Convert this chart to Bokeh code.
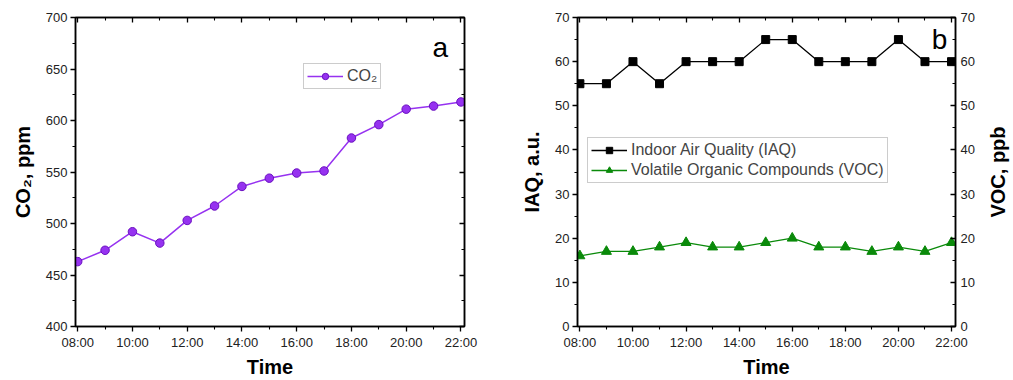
from bokeh.plotting import figure
from bokeh.layouts import row
from bokeh.models import (Range1d, LinearAxis, FixedTicker, Legend, LegendItem,
                          CustomJSTickFormatter, Label)
from bokeh.embed import file_html
from bokeh.resources import INLINE

# ---------------- data ----------------
hours = [8, 9, 10, 11, 12, 13, 14, 15, 16, 17, 18, 19, 20, 21, 22]
tick_hours = [8, 10, 12, 14, 16, 18, 20, 22]
minor_hours = [9, 11, 13, 15, 17, 19, 21]
tick_labels = ["08:00", "10:00", "12:00", "14:00", "16:00", "18:00", "20:00", "22:00"]

co2_ppm = [463, 474, 492, 481, 503, 517, 536, 544, 549, 551, 583, 596, 611, 614, 618]
iaq_au = [55, 55, 60, 55, 60, 60, 60, 65, 65, 60, 60, 60, 65, 60, 60]
voc_ppb = [16, 17, 17, 18, 19, 18, 18, 19, 20, 18, 18, 17, 18, 17, 19]

co2_ticks = [400, 450, 500, 550, 600, 650, 700]
co2_minor = [425, 475, 525, 575, 625, 675]
aq_ticks = [0, 10, 20, 30, 40, 50, 60, 70]
aq_minor = [5, 15, 25, 35, 45, 55, 65]

FONT = "Liberation Sans"
PURPLE = "#9632F0"
GREEN = "#0A8A0A"


def style_axis(ax, ticks, minor, outward=True, labels=True, overrides=None):
    ax.ticker = FixedTicker(ticks=ticks, minor_ticks=minor)
    ax.axis_line_width = 1.5
    ax.axis_line_color = "black"
    ax.major_tick_line_width = 1.3
    ax.minor_tick_line_width = 1.1
    if outward:
        ax.major_tick_out, ax.major_tick_in = 5, 0
        ax.minor_tick_out, ax.minor_tick_in = 3, 0
    else:
        ax.major_tick_out, ax.major_tick_in = 0, 5
        ax.minor_tick_out, ax.minor_tick_in = 0, 3
    ax.major_label_text_font = FONT
    ax.major_label_text_font_size = "13px"
    ax.major_label_text_color = "#222222"
    ax.major_label_standoff = 3
    ax.axis_label_text_font = FONT
    ax.axis_label_text_font_size = "20px"
    ax.axis_label_text_font_style = "bold"
    ax.axis_label_text_color = "black"
    ax.axis_label_standoff = 3
    if overrides:
        ax.major_label_overrides = overrides
    if not labels:
        ax.formatter = CustomJSTickFormatter(code="return ''")
        ax.major_label_standoff = 0


x_over = {float(h): l for h, l in zip(tick_hours, tick_labels)}

# ---------------- panel a ----------------
p1 = figure(width=505, height=380, x_range=Range1d(7.92, 22.13), y_range=Range1d(400, 700),
            output_backend="svg", toolbar_location=None,
            min_border_left=75, min_border_right=41, min_border_top=17, min_border_bottom=52,
            x_axis_label="Time", y_axis_label="CO₂, ppm")
p1.xgrid.visible = False
p1.ygrid.visible = False
p1.outline_line_color = "black"
p1.outline_line_width = 1.5
style_axis(p1.xaxis[0], tick_hours, minor_hours, overrides=x_over)
style_axis(p1.yaxis[0], co2_ticks, co2_minor)
p1.yaxis[0].axis_label_standoff = 9
top1 = LinearAxis()
style_axis(top1, tick_hours, minor_hours, outward=False, labels=False)
p1.add_layout(top1, "above")
right1 = LinearAxis()
style_axis(right1, co2_ticks, co2_minor, outward=False, labels=False)
p1.add_layout(right1, "right")

l1 = p1.line(hours, co2_ppm, line_color=PURPLE, line_width=1.5)
s1 = p1.scatter(hours, co2_ppm, marker="circle", size=8.5, fill_color=PURPLE,
                line_color="#6A10C0", line_width=1)
leg1 = Legend(items=[LegendItem(label="CO₂", renderers=[l1, s1])],
              location=(228, 237), glyph_width=36, glyph_height=16,
              label_text_font=FONT, label_text_font_size="16px",
              label_standoff=4, padding=3, spacing=0, margin=0,
              border_line_color="#999999", border_line_width=1,
              background_fill_alpha=1)
p1.add_layout(leg1, "center")
p1.add_layout(Label(x=21.25, y=671, text="a", text_font=FONT, text_font_size="28px",
                    text_align="center", text_baseline="middle", text_color="black"))

# ---------------- panel b ----------------
p2 = figure(width=478, height=380, x_range=Range1d(7.91, 22.15), y_range=Range1d(0, 70),
            output_backend="svg", toolbar_location=None,
            min_border_left=72, min_border_right=28, min_border_top=17, min_border_bottom=52,
            x_axis_label="Time", y_axis_label="IAQ, a.u.")
p2.extra_y_ranges = {"voc": Range1d(0, 70)}
p2.xgrid.visible = False
p2.ygrid.visible = False
p2.outline_line_color = "black"
p2.outline_line_width = 1.5
style_axis(p2.xaxis[0], tick_hours, minor_hours, overrides=x_over)
style_axis(p2.yaxis[0], aq_ticks, aq_minor)
p2.yaxis[0].axis_label_standoff = 9
top2 = LinearAxis()
style_axis(top2, tick_hours, minor_hours, outward=False, labels=False)
p2.add_layout(top2, "above")
right2 = LinearAxis(y_range_name="voc")
style_axis(right2, aq_ticks, aq_minor, outward=False)
right2.major_label_standoff = 5
p2.add_layout(right2, "right")

l2 = p2.line(hours, iaq_au, line_color="black", line_width=1.3)
s2 = p2.scatter(hours, iaq_au, marker="square", size=8, fill_color="black", line_color="black")
l3 = p2.line(hours, voc_ppb, line_color=GREEN, line_width=1.3, y_range_name="voc")
s3 = p2.scatter(hours, voc_ppb, marker="triangle", size=10, fill_color=GREEN,
                line_color=GREEN, y_range_name="voc")
leg2 = Legend(items=[LegendItem(label="Indoor Air Quality (IAQ)", renderers=[l2, s2]),
                     LegendItem(label="Volatile Organic Compounds (VOC)", renderers=[l3, s3])],
              location=(10, 143), glyph_width=36, glyph_height=16,
              label_text_font=FONT, label_text_font_size="16px",
              label_standoff=4, padding=3, spacing=2, margin=0,
              border_line_color="#999999", border_line_width=1,
              background_fill_alpha=1)
p2.add_layout(leg2, "center")
p2.add_layout(Label(x=21.55, y=65, text="b", text_font=FONT, text_font_size="28px",
                    text_align="center", text_baseline="middle", text_color="black"))

# ---------------- right-axis title strip (reads upwards) ----------------
p3 = figure(width=30, height=380, x_range=Range1d(0, 1), y_range=Range1d(0, 70),
            output_backend="svg", toolbar_location=None, x_axis_location=None,
            min_border_left=0, min_border_right=0, min_border_top=17, min_border_bottom=52,
            y_axis_label="VOC, ppb")
p3.xgrid.visible = False
p3.ygrid.visible = False
p3.outline_line_color = None
ya = p3.yaxis[0]
ya.axis_line_color = None
ya.major_tick_line_color = None
ya.minor_tick_line_color = None
ya.major_tick_out = 0
ya.minor_tick_out = 0
ya.formatter = CustomJSTickFormatter(code="return ''")
ya.major_label_standoff = 0
ya.axis_label_standoff = 0
ya.axis_label_text_font = FONT
ya.axis_label_text_font_size = "20px"
ya.axis_label_text_font_style = "bold"
ya.axis_label_text_color = "black"

layout = row(p1, p2, p3)
open("out.html", "w").write(file_html(layout, INLINE))
